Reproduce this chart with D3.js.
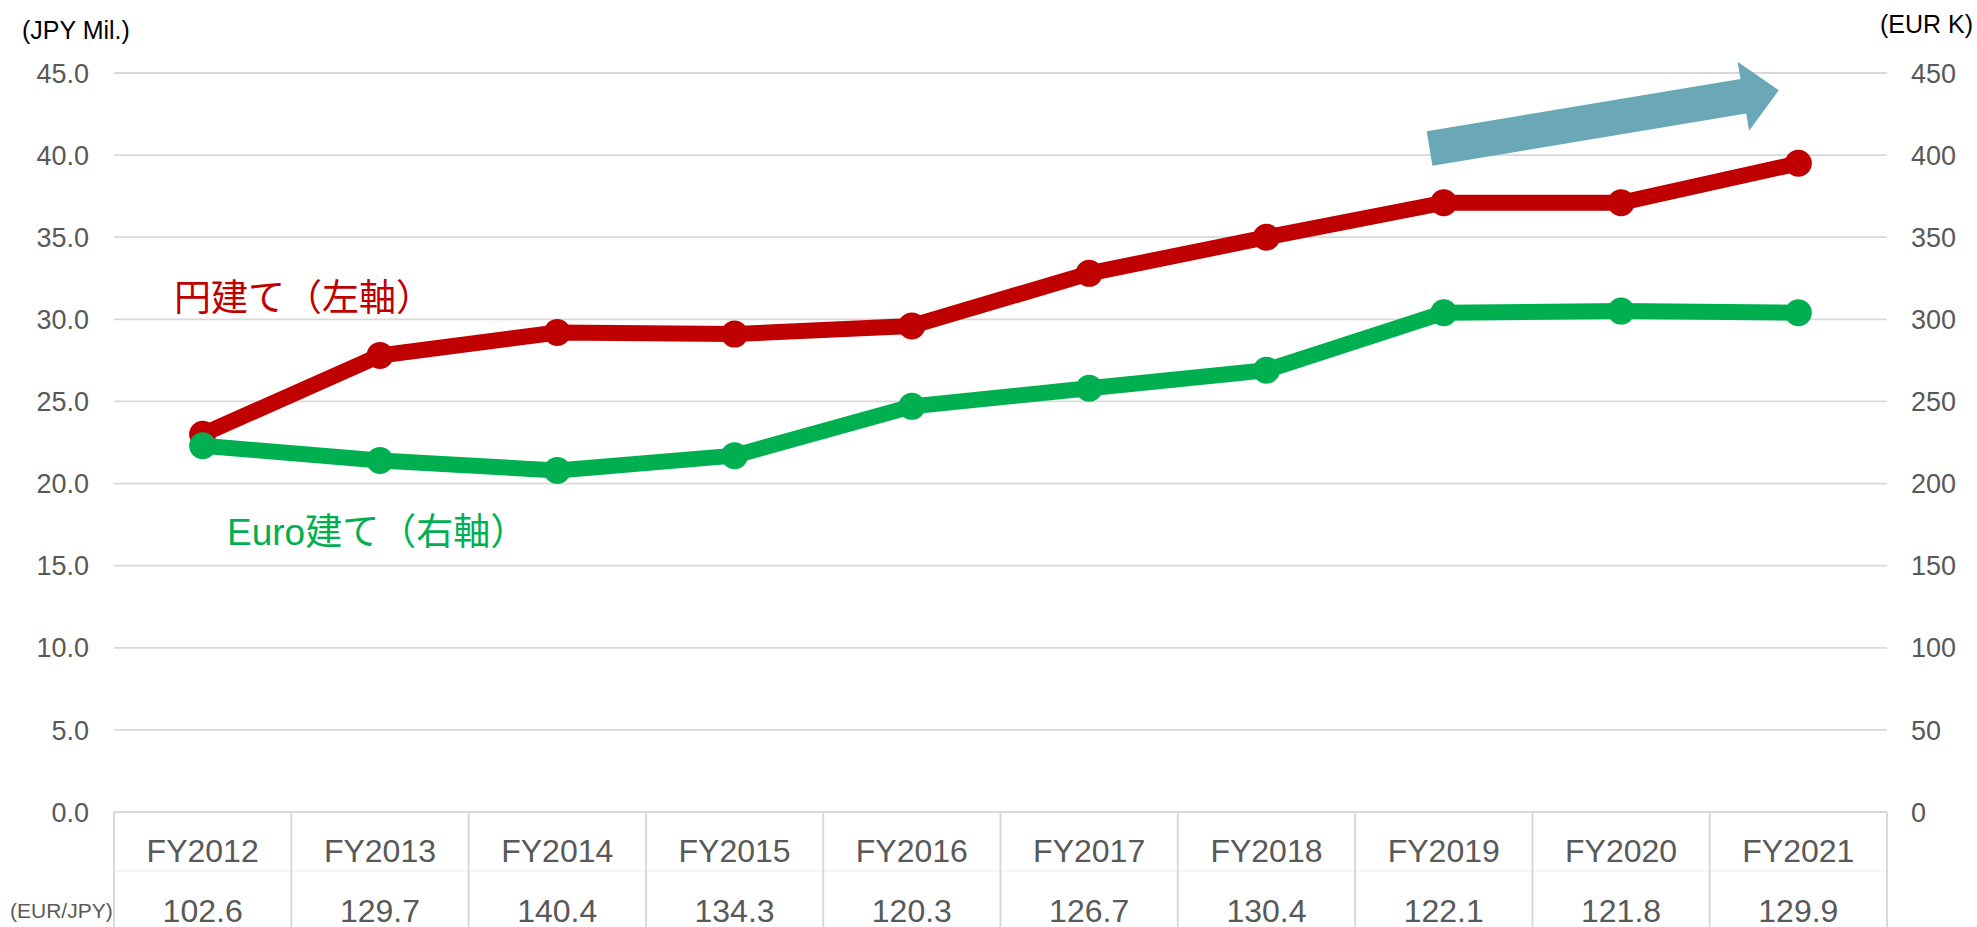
<!doctype html>
<meta charset="utf-8">
<style>
  body { margin: 0; background: #fff; }
  svg text { font-family: "Liberation Sans", Arial, "Noto Sans CJK JP", sans-serif; }
</style>
<body>
<script src="https://d3js.org/d3.v7.min.js"></script>
<script>

// chart data
const years = ["FY2012", "FY2013", "FY2014", "FY2015", "FY2016", "FY2017", "FY2018", "FY2019", "FY2020", "FY2021"];
const jpyMil = [23.0, 27.8, 29.2, 29.1, 29.6, 32.8, 35.0, 37.1, 37.1, 39.5];
const eurK = [223, 214, 208, 217, 247, 258, 269, 304, 305, 304];
const eurJpy = ["102.6", "129.7", "140.4", "134.3", "120.3", "126.7", "130.4", "122.1", "121.8", "129.9"];
const leftTicks = [0, 5, 10, 15, 20, 25, 30, 35, 40, 45];
const rightTicks = [0, 50, 100, 150, 200, 250, 300, 350, 400, 450];

const width = 1977, height = 927;
const margin = {top: 73, right: 90, bottom: 115, left: 114};

const svg = d3.select("body").append("svg")
    .attr("width", width)
    .attr("height", height);

const x = d3.scaleBand()
    .domain(years)
    .range([margin.left, width - margin.right])
    .padding(0);

const yL = d3.scaleLinear().domain([0, 45]).range([height - margin.bottom, margin.top]);
const yR = d3.scaleLinear().domain([0, 450]).range([height - margin.bottom, margin.top]);

const gridColor = "#d9d9d9",
      textGray = "#595959";

// horizontal gridlines
svg.append("g")
  .selectAll("line")
  .data(leftTicks.filter(d => d > 0))
  .join("line")
    .attr("x1", margin.left)
    .attr("x2", width - margin.right)
    .attr("y1", d => yL(d))
    .attr("y2", d => yL(d))
    .attr("stroke", gridColor)
    .attr("stroke-width", 1.8);

// left axis labels
svg.append("g")
  .selectAll("text")
  .data(leftTicks)
  .join("text")
    .attr("x", 89)
    .attr("y", d => yL(d))
    .attr("dy", "0.36em")
    .attr("text-anchor", "end")
    .attr("font-size", 27)
    .attr("fill", textGray)
    .text(d => d.toFixed(1));

// right axis labels
svg.append("g")
  .selectAll("text")
  .data(rightTicks)
  .join("text")
    .attr("x", 1911)
    .attr("y", d => yR(d))
    .attr("dy", "0.36em")
    .attr("font-size", 27)
    .attr("fill", textGray)
    .text(d => d);

svg.append("text")
    .attr("x", 22).attr("y", 39)
    .attr("font-size", 25)
    .attr("fill", "#000")
    .text("(JPY Mil.)");

svg.append("text")
    .attr("x", 1973).attr("y", 33)
    .attr("text-anchor", "end")
    .attr("font-size", 25)
    .attr("fill", "#000")
    .text("(EUR K)");

// data table under the plot
const tableTop = yL(0);
const table = svg.append("g");

table.append("line")
    .attr("x1", margin.left).attr("x2", width - margin.right)
    .attr("y1", tableTop + 59).attr("y2", tableTop + 59)
    .attr("stroke", "#f2f2f2").attr("stroke-width", 1.5);

table.append("line")
    .attr("x1", margin.left).attr("x2", width - margin.right)
    .attr("y1", tableTop).attr("y2", tableTop)
    .attr("stroke", gridColor).attr("stroke-width", 2);

table.selectAll("line.v")
  .data(years.map(d => x(d)).concat([x(years[years.length - 1]) + x.bandwidth()]))
  .join("line")
    .attr("class", "v")
    .attr("x1", d => d).attr("x2", d => d)
    .attr("y1", tableTop).attr("y2", height)
    .attr("stroke", gridColor).attr("stroke-width", 2);

table.selectAll("text.yr")
  .data(years)
  .join("text")
    .attr("class", "yr")
    .attr("x", d => x(d) + x.bandwidth() / 2)
    .attr("y", tableTop + 50)
    .attr("text-anchor", "middle")
    .attr("font-size", 32)
    .attr("fill", textGray)
    .text(d => d);

table.selectAll("text.rate")
  .data(eurJpy)
  .join("text")
    .attr("class", "rate")
    .attr("x", (d, i) => x(years[i]) + x.bandwidth() / 2)
    .attr("y", tableTop + 109.5)
    .attr("text-anchor", "middle")
    .attr("font-size", 32)
    .attr("fill", textGray)
    .text(d => d);

svg.append("text")
    .attr("x", 10).attr("y", tableTop + 106)
    .attr("font-size", 21)
    .attr("fill", textGray)
    .text("(EUR/JPY)");

// trend arrow, anchored on the left-axis scale
const arrowFrom = {i: 6.92, v: 40.4}, arrowTo = {i: 8.89, v: 43.95};
const xi = d3.scaleLinear().domain([0, years.length - 1])
    .range([x(years[0]) + x.bandwidth() / 2, x(years[years.length - 1]) + x.bandwidth() / 2]);
(function drawArrow() {
  const x0 = xi(arrowFrom.i), y0 = yL(arrowFrom.v),
        x1 = xi(arrowTo.i), y1 = yL(arrowTo.v);
  const len = Math.hypot(x1 - x0, y1 - y0),
        ux = (x1 - x0) / len, uy = (y1 - y0) / len,
        nx = -uy, ny = ux;
  const shaft = 17.5, head = 35, headLen = 36;
  const bx = x1 - ux * headLen, by = y1 - uy * headLen;
  const pts = [
    [x0 + nx * shaft, y0 + ny * shaft],
    [bx + nx * shaft, by + ny * shaft],
    [bx + nx * head, by + ny * head],
    [x1, y1],
    [bx - nx * head, by - ny * head],
    [bx - nx * shaft, by - ny * shaft],
    [x0 - nx * shaft, y0 - ny * shaft]
  ];
  svg.append("polygon")
      .attr("points", pts.map(p => p.join(",")).join(" "))
      .attr("fill", "#6aa8b8");
})();

// series lines
const cx = d => x(d) + x.bandwidth() / 2;

function drawSeries(values, yScale, color) {
  const pts = years.map((d, i) => [cx(d), yScale(values[i])]);
  svg.append("path")
      .attr("d", d3.line()(pts))
      .attr("fill", "none")
      .attr("stroke", color)
      .attr("stroke-width", 16)
      .attr("stroke-linejoin", "round");
  svg.append("g")
    .selectAll("circle")
    .data(pts)
    .join("circle")
      .attr("cx", d => d[0])
      .attr("cy", d => d[1])
      .attr("r", 13.5)
      .attr("fill", color);
}

drawSeries(jpyMil, yL, "#c00000");
drawSeries(eurK, yR, "#00b050");

// series labels
svg.append("text")
    .attr("x", 174).attr("y", 311)
    .attr("font-size", 37)
    .attr("fill", "#c00000")
    .text("円建て（左軸）");

svg.append("text")
    .attr("x", 227).attr("y", 545)
    .attr("font-size", 37)
    .attr("fill", "#00b050")
    .text("Euro建て（右軸）");

</script>
</body>
